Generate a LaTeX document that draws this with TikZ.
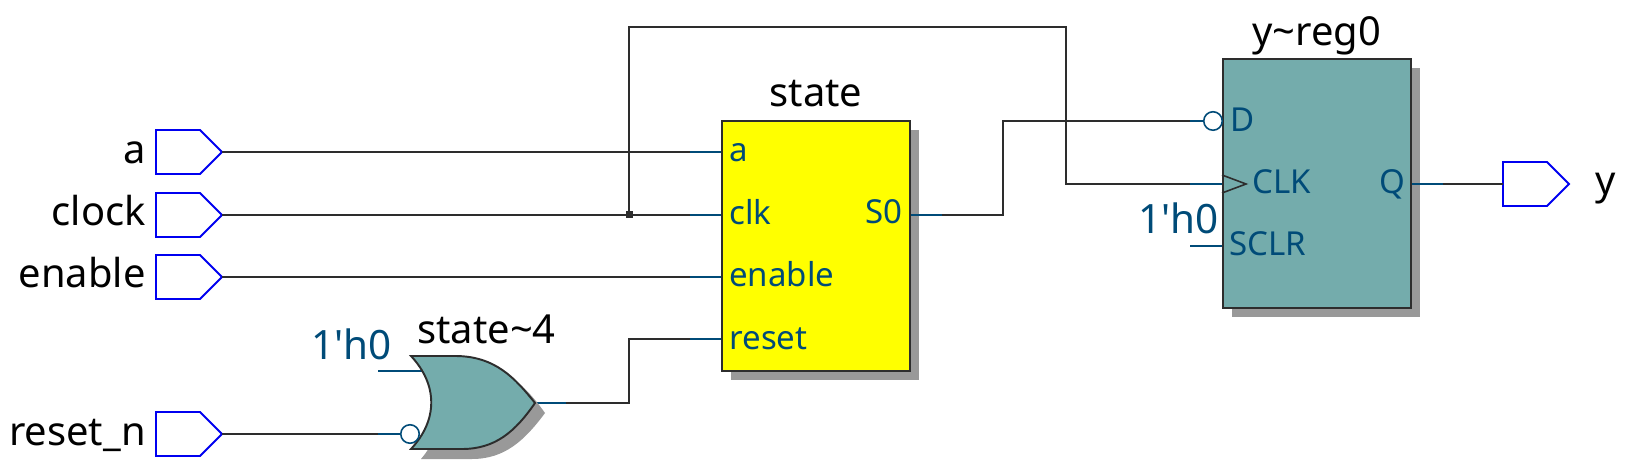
\documentclass[tikz,border=0pt]{standalone}
\usepackage{fontspec}
\setmainfont{Noto Sans}
\usetikzlibrary{calc}

\definecolor{wirecol}{HTML}{2D2D2D}
\definecolor{stubcol}{HTML}{004B78}
\definecolor{pincol}{HTML}{0000F0}
\definecolor{regcol}{HTML}{74ACAC}
\definecolor{shadowcol}{HTML}{999999}
\definecolor{statecol}{RGB}{255,255,0}

\tikzset{
    wire/.style={line width=0.9pt, wirecol},
    stub/.style={line width=0.9pt, stubcol},
    blockbox/.style={draw=wirecol, line width=1.1pt, inner sep=0pt},
    shadowbox/.style={fill=shadowcol, draw=none, inner sep=0pt},
    title/.style={font=\fontsize{22.7}{25}\selectfont, text=black, inner sep=0pt},
    const/.style={font=\fontsize{23}{25}\selectfont, text=stubcol, inner sep=0pt, anchor=base east},
    port/.style={font=\fontsize{18.8}{22}\selectfont, text=stubcol, inner sep=0pt, anchor=base west},
    bubble/.style={circle, draw=stubcol, fill=white, line width=0.9pt, minimum size=0.37cm, inner sep=0pt},
    pinpath/.style={draw=pincol, line width=1.1pt, fill=white},
    inpin/.pic={
        \path[pinpath] (0,-22) -- (44,-22) -- (66,0) -- (44,22) -- (0,22) -- cycle;
        \coordinate (-tip) at (66,0);
        \coordinate (-back) at (0,0);
    },
}

\begin{document}
\begin{tikzpicture}[x=0.02cm, y=-0.02cm]
    \useasboundingbox (0,0) rectangle (1625,472);

    % input and output pins
    \pic (pina) at (156,152) {inpin};
    \pic (pinclock) at (156,215) {inpin};
    \pic (pinenable) at (156,277) {inpin};
    \pic (pinreset) at (156,434) {inpin};
    \pic (piny) at (1503,184) {inpin};
    \node[title, anchor=base east] (lbla) at (146,164) {a};
    \node[title, anchor=base east] (lblclock) at (146,226) {clock};
    \node[title, anchor=base east] (lblenable) at (146,288) {enable};
    \node[title, anchor=base east] (lblreset) at (146,445) {reset\_n};
    \node[title, anchor=base west] (lbly) at (1595,195) {y};

    % block shadows
    \node[shadowbox, minimum width=3.76cm, minimum height=5cm, anchor=north west] (stateshadow) at (731,130) {};
    \node[shadowbox, minimum width=3.76cm, minimum height=4.98cm, anchor=north west] (regshadow) at (1232,68) {};

    % blocks
    \node[blockbox, fill=statecol, minimum width=3.76cm, minimum height=5cm, anchor=north west] (state) at (721,120) {};
    \node[blockbox, fill=regcol, minimum width=3.76cm, minimum height=4.98cm, anchor=north west] (reg) at (1222,58) {};
    \node[title] (statetitle) at (816,107) [anchor=base] {state};
    \node[title, anchor=base west] (regtitle) at (1252,46) {y\~{}reg0};

    % port positions
    \coordinate (statea) at (state.north west |- 0,152);
    \coordinate (stateclk) at (state.north west |- 0,215);
    \coordinate (stateen) at (state.north west |- 0,277);
    \coordinate (staterst) at (state.north west |- 0,339);
    \coordinate (states) at (state.north east |- 0,215);
    \coordinate (regd) at (reg.north west |- 0,121);
    \coordinate (regclk) at (reg.north west |- 0,184);
    \coordinate (regsclr) at (reg.north west |- 0,246);
    \coordinate (regq) at (reg.north east |- 0,184);
    \coordinate (junction) at (629,215);
    \coordinate (gateout) at (535,403);

    % wires
    \draw[wire] (pina-tip) -- ($(statea)+(-31,0)$);
    \draw[wire] (pinclock-tip) -- ($(stateclk)+(-31,0)$);
    \draw[wire] (pinenable-tip) -- ($(stateen)+(-31,0)$);
    \draw[wire] (pinreset-tip) -- (378,434);
    \draw[wire] (566,403) -| (junction |- staterst) -- ($(staterst)+(-31,0)$);
    \draw[wire] (junction) -- (junction |- 0,27) -| (1066,184) -- ($(regclk)+(-32,0)$);
    \draw[wire] ($(states)+(31,0)$) -| (1003,121) -- ($(regd)+(-32,0)$);
    \draw[wire] ($(regq)+(31,0)$) -- (piny-back);
    \node[fill=wirecol, minimum size=0.14cm, inner sep=0pt] (dot) at (junction) {};

    % short coloured stubs at the ports
    \foreach \p in {statea, stateclk, stateen, staterst}
        \draw[stub] ($(\p)+(-31,0)$) -- (\p);
    \draw[stub] ($(states)+(31,0)$) -- (states);
    \draw[stub] ($(regq)+(31,0)$) -- (regq);
    \draw[stub] ($(regd)+(-32,0)$) -- (regd);
    \draw[stub] ($(regclk)+(-32,0)$) -- (regclk);
    \draw[stub] ($(regsclr)+(-32,0)$) -- (regsclr);
    \draw[stub] (378,434) -- (400,434);
    \draw[stub] (378,371) -- (430,371);
    \draw[stub] (gateout) -- (566,403);

    % or gate
    \fill[shadowcol] (421,366) .. controls (438,390) and (450,425) .. (421,459) -- (472,459)
        .. controls (505,459) and (525,440) .. (545,413)
        .. controls (525,385) and (505,366) .. (465,366) -- cycle;
    \draw[blockbox, fill=regcol] (411,356) .. controls (438,385) and (438,420) .. (411,449) -- (462,449)
        .. controls (495,449) and (515,432) .. (gateout)
        .. controls (515,378) and (495,356) .. (455,356) -- cycle;
    \node[bubble] (gatebub) at (410,434) {};

    % clock mark and bubble
    \draw[wire] (1222,175) -- (1246,184) -- (1222,193);
    \node[bubble] (regbub) at (1213,121) {};

    % port texts
    \node[port] (ta) at (729,162) {a};
    \node[port] (tclk) at (729,225) {clk};
    \node[port] (ten) at (729,287) {enable};
    \node[port] (trst) at (729,350) {reset};
    \node[port, anchor=base east] (ts) at (903,224) {S0};
    \node[port] (td) at (1230,132) {D};
    \node[port] (tc) at (1252,194) {CLK};
    \node[port] (tsc) at (1229,256) {SCLR};
    \node[port] (tq) at (1379,194) {Q};
    \node[const] (c1) at (392,360) {1\textquotesingle h0};
    \node[const] (c2) at (1219,234) {1\textquotesingle h0};
    \node[title, anchor=base west] (gatetitle) at (417,344) {state\~{}4};
\end{tikzpicture}
\end{document}
